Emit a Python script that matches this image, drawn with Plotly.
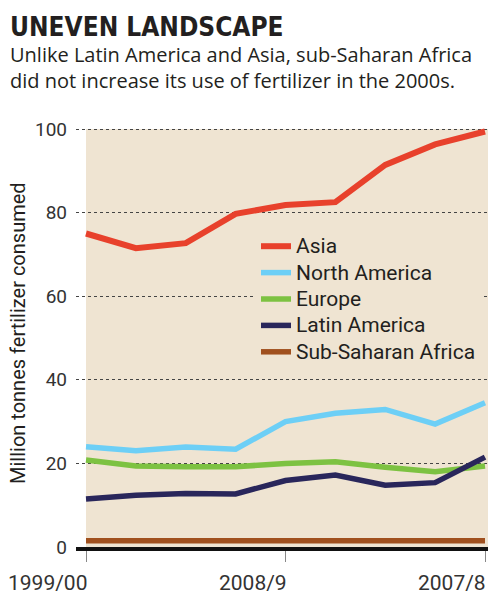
import plotly.graph_objects as go

# ---------------- data ----------------
periods = list(range(9))
asia = [75.0, 71.5, 72.7, 79.7, 81.8, 82.5, 91.4, 96.3, 99.4]
north_america = [24.0, 23.0, 23.9, 23.4, 30.0, 32.0, 32.9, 29.4, 34.5]
europe = [20.8, 19.4, 19.2, 19.2, 20.0, 20.4, 19.1, 18.0, 19.4]
latin_america = [11.5, 12.4, 12.8, 12.7, 15.9, 17.2, 14.8, 15.4, 21.5]
ssa = [1.5, 1.5, 1.5, 1.4, 1.4, 1.5, 1.6, 1.7, 1.5]

series_names = ["Asia", "North America", "Europe", "Latin America", "Sub-Saharan Africa"]
series_values = [asia, north_america, europe, latin_america, ssa]
series_colors = ["#e8412c", "#6dcff6", "#7dc242", "#29265b", "#a0501e"]

x_tick_positions = [0, 4, 8]
x_tick_labels = ["1999/00", "2008/9", "2007/8"]
y_tick_values = [0, 20, 40, 60, 80, 100]

title_text = "UNEVEN LANDSCAPE"
subtitle_lines = ["Unlike Latin America and Asia, sub-Saharan Africa",
                  "did not increase its use of fertilizer in the 2000s."]
y_title = "Million tonnes fertilizer consumed"

# ---------------- layout geometry ----------------
W, H = 500, 607
L, R, T, B = 76, 12, 125, 60
PW, PH = W - L - R, H - T - B
BEIGE = "#efe4d2"
TXT = "#231f20"

def px_x(p):
    return (p - L) / PW

def px_y(p):
    return (H - B - p) / PH

# x range: first point at px 86, last at px 485
x_per_px = 8 / (485 - 86)
x_min = 0 - (86 - L) * x_per_px
x_max = x_min + PW * x_per_px
y_max = 100 * PH / (H - B - 129)

fig = go.Figure()
for name, vals, col in zip(series_names, series_values, series_colors):
    fig.add_trace(go.Scatter(
        x=periods, y=vals, mode="lines",
        name="<span style='font-size:21px'>%s</span>" % name,
        line=dict(color=col, width=6 if name == "Asia" else 5.5),
        hoverinfo="skip",
    ))

shapes = [
    dict(type="rect", xref="x", yref="y", x0=0, x1=x_max, y0=0, y1=100,
         fillcolor=BEIGE, line=dict(width=0), layer="below"),
    # legend backdrop hiding gridlines
    dict(type="rect", xref="paper", yref="paper", x0=px_x(218), x1=1,
         y0=px_y(362), y1=px_y(228), fillcolor=BEIGE, line=dict(width=0),
         layer="between"),
]

header = ("<span style='font-family:\"Liberation Sans Narrow\", \"DejaVu Sans Condensed\", sans-serif;"
          "font-size:26px;font-weight:bold'>%s</span><br>%s" % (title_text, "<br>".join(subtitle_lines)))

annotations = [
    dict(text=header, xref="paper", yref="paper",
         x=px_x(8), y=px_y(53), xanchor="left", yanchor="middle",
         align="left", showarrow=False,
         font=dict(family="Open Sans, sans-serif", size=20, color=TXT)),
    dict(text=y_title, xref="paper", yref="paper",
         x=px_x(18), y=px_y(333), xanchor="center", yanchor="middle", textangle=-90,
         showarrow=False, font=dict(family="Roboto, sans-serif", size=20, color=TXT)),
]
for pos, lab in zip(x_tick_positions, x_tick_labels):
    annotations.append(dict(
        text=lab, xref="x", yref="paper", x=pos, y=px_y(583),
        xanchor="right", yanchor="middle", xshift=3, showarrow=False,
        font=dict(family="Roboto, sans-serif", size=21, color="#333333")))

fig.update_layout(
    width=W, height=H,
    margin=dict(l=L, r=R, t=T, b=B, pad=0),
    paper_bgcolor="white", plot_bgcolor="white",
    showlegend=True,
    legend=dict(x=px_x(256), y=px_y(228), xanchor="left", yanchor="top",
                bgcolor=BEIGE, borderwidth=0, traceorder="normal",
                font=dict(family="Roboto, sans-serif", size=18, color=TXT),
                tracegroupgap=0),
    shapes=shapes,
    annotations=annotations,
    xaxis=dict(range=[x_min, x_max], showgrid=False, zeroline=False,
               showline=True, linecolor="#111111", linewidth=4,
               ticks="outside", tickvals=x_tick_positions, ticklen=11,
               tickcolor="#888888", tickwidth=1, showticklabels=False,
               fixedrange=True),
    yaxis=dict(range=[0, y_max], tickvals=y_tick_values, showgrid=True,
               gridcolor="#444444", griddash="dot", gridwidth=1,
               zeroline=False, showline=False, ticks="",
               ticklabelstandoff=8,
               tickfont=dict(family="Roboto, sans-serif", size=19, color="#333333"),
               fixedrange=True),
)

fig.write_html("out.html", config={"displayModeBar": False},
               post_script="document.body.style.margin='0';")
